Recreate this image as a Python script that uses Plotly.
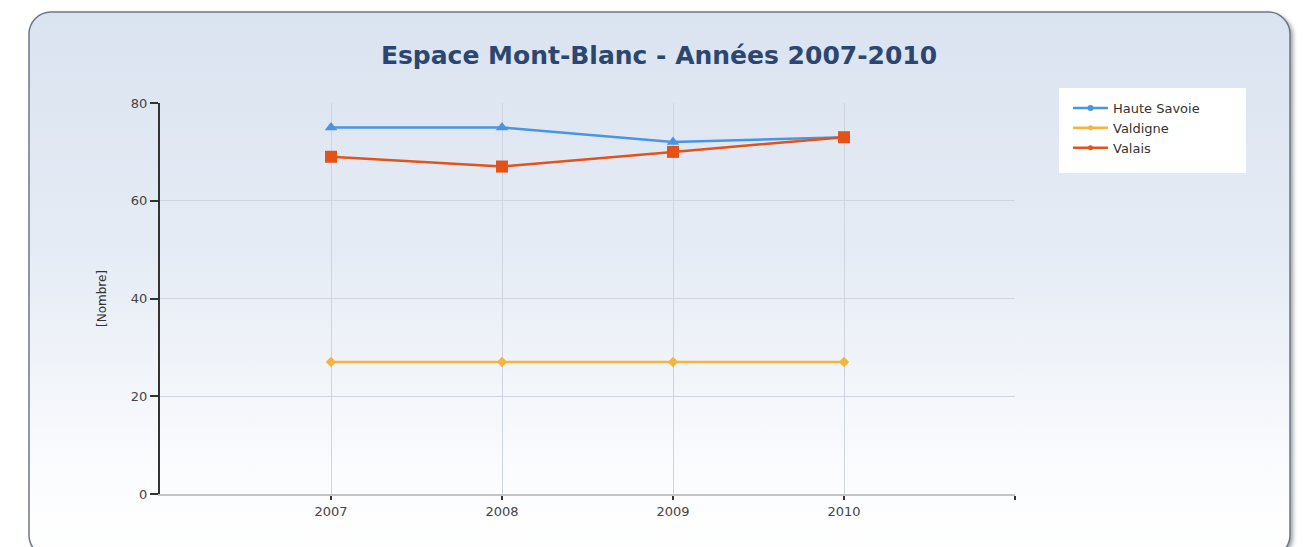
import plotly.graph_objects as go
import urllib.parse

years = [2007, 2008, 2009, 2010]
haute_savoie = [75, 75, 72, 73]
valdigne = [27, 27, 27, 27]
valais = [69, 67, 70, 73]
y_ticks = [0, 20, 40, 60, 80]

W, H = 1303, 547
L, R, T, B = 160, 288, 103, 53
PW, PH = W - L - R, H - T - B

svg = f'''<svg xmlns="http://www.w3.org/2000/svg" width="{W}" height="{H}" viewBox="0 0 {W} {H}">
<defs>
<linearGradient id="g" x1="0" y1="0" x2="0" y2="1">
<stop offset="0" stop-color="#dae3f0"/>
<stop offset="0.45" stop-color="#e6ecf5"/>
<stop offset="0.85" stop-color="#fbfcfe"/>
<stop offset="1" stop-color="#ffffff"/>
</linearGradient>
<filter id="f" x="-5%" y="-5%" width="110%" height="110%"><feGaussianBlur stdDeviation="2"/></filter>
</defs>
<rect x="32" y="14" width="1261" height="545" rx="22" fill="#9aa0a8" filter="url(#f)"/>
<rect x="29" y="12" width="1261" height="545" rx="22" fill="url(#g)" stroke="#6f7782" stroke-width="1.5"/>
</svg>'''
src = "data:image/svg+xml;charset=utf-8," + urllib.parse.quote(svg)

series = [
    ("Haute Savoie", haute_savoie, "#4a94e4", "triangle-up", 11, 6),
    ("Valdigne", valdigne, "#f6b43c", "diamond", 8, 5),
    ("Valais", valais, "#e35219", "square", 12, 5),
]

fig = go.Figure()
for name, vals, color, sym, size, lsize in series:
    fig.add_trace(go.Scatter(x=years, y=vals, name=name, mode="lines+markers",
                             line=dict(color=color, width=2.5), showlegend=False,
                             marker=dict(symbol=sym, size=size, color=color)))
for name, vals, color, sym, size, lsize in series:
    fig.add_trace(go.Scatter(x=[None], y=[None], name=name, mode="lines+markers",
                             line=dict(color=color, width=2.5), showlegend=True,
                             marker=dict(symbol="circle", size=lsize, color=color)))

fig.add_layout_image(dict(source=src, xref="paper", yref="paper",
                          x=-L / PW, y=1 + T / PH, sizex=W / PW, sizey=H / PH,
                          xanchor="left", yanchor="top", sizing="stretch", layer="below"))

# legend background box
fig.add_shape(type="rect", xref="paper", yref="paper",
              x0=(1059 - L) / PW, x1=(1246 - L) / PW,
              y0=(H - B - 173) / PH, y1=(H - B - 88) / PH,
              fillcolor="white", line=dict(width=0), layer="below")

fig.update_layout(
    width=W, height=H,
    margin=dict(l=L, r=R, t=T, b=B),
    paper_bgcolor="white",
    plot_bgcolor="rgba(0,0,0,0)",
    title=dict(text="<b>Espace Mont-Blanc - Années 2007-2010</b>", x=(659) / W, xanchor="center",
               y=1 - 55 / H, yanchor="middle",
               font=dict(family="DejaVu Sans", size=25, color="#2b4670")),
    font=dict(family="DejaVu Sans", size=13, color="#444"),
    showlegend=True,
    legend=dict(x=(1068 - L) / PW, y=(H - B - 93) / PH, xanchor="left", yanchor="top",
                bgcolor="rgba(0,0,0,0)", font=dict(size=13, color="#333"),
                itemwidth=35, tracegroupgap=0),
    xaxis=dict(range=[2006, 2011], tickvals=years + [2011],
               ticktext=[str(y) for y in years] + [""],
               showgrid=True, gridcolor="#cfd5de", gridwidth=1,
               showline=True, linecolor="#c4c4c4", linewidth=2,
               ticks="outside", ticklen=4, tickcolor="#333", tickwidth=1.5,
               zeroline=False, tickfont=dict(size=13, color="#444")),
    yaxis=dict(range=[0, 80], tickvals=y_ticks,
               showgrid=True, gridcolor="#cfd5de", gridwidth=1,
               showline=True, linecolor="#333", linewidth=2,
               ticks="outside", ticklen=8, tickcolor="#333", tickwidth=2,
               zeroline=False, tickfont=dict(size=13, color="#444"),
               title=dict(text="[Nombre]", font=dict(size=12, color="#333"), standoff=22)),
)

fig.write_html("out.html", config={"displayModeBar": False},
               post_script="document.body.style.margin='0';")
